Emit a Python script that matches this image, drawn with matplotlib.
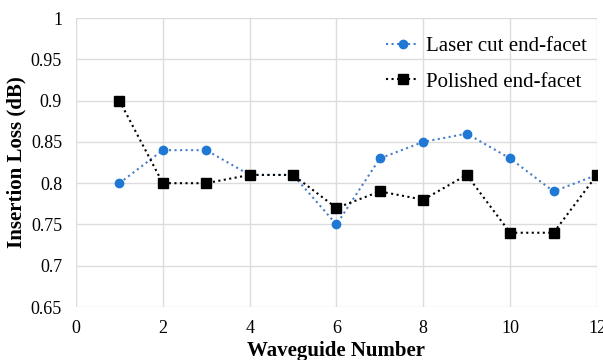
import matplotlib
matplotlib.use("Agg")
import matplotlib.pyplot as plt

waveguide = [1, 2, 3, 4, 5, 6, 7, 8, 9, 10, 11, 12]
laser_cut = [0.80, 0.84, 0.84, 0.81, 0.81, 0.75, 0.83, 0.85, 0.86, 0.83, 0.79, 0.81]
polished = [0.90, 0.80, 0.80, 0.81, 0.81, 0.77, 0.79, 0.78, 0.81, 0.74, 0.74, 0.81]
x_ticks = [0, 2, 4, 6, 8, 10, 12]
y_ticks = [0.65, 0.7, 0.75, 0.8, 0.85, 0.9, 0.95, 1.0]
y_labels = ["0.65", "0.7", "0.75", "0.8", "0.85", "0.9", "0.95", "1"]

plt.rcParams['font.family'] = ['Liberation Serif', 'DejaVu Serif']

fig = plt.figure(figsize=(6.03, 3.6), dpi=100)
ax = fig.add_axes([0.126, 0.147, 0.864, 0.803])

ax.plot(waveguide, laser_cut, linestyle=':', color='#4a7fc8', linewidth=1.5,
        marker='o', markersize=6, markerfacecolor='#1f78d4', markeredgecolor='#1f78d4',
        label='Laser cut end-facet', zorder=3)
ax.plot(waveguide, polished, linestyle=':', color='black', linewidth=1.5,
        marker='s', markersize=7.5, markerfacecolor='black', markeredgecolor='black',
        label='Polished end-facet', zorder=4)

ax.set_xlim(0, 12)
ax.set_ylim(0.65, 1.0)
ax.set_xticks(x_ticks)
ax.set_yticks(y_ticks)
ax.set_yticklabels(y_labels)
ax.tick_params(axis='x', length=0, labelsize=13, pad=9)
ax.tick_params(axis='y', length=0, labelsize=13, pad=10)
ax.grid(True, color='#dcdcdc', linewidth=1)
ax.set_axisbelow(True)
for s in ax.spines.values():
    s.set_visible(False)

ax.set_xlabel('Waveguide Number', fontsize=15, fontweight='bold', labelpad=3)
ax.set_ylabel('Insertion Loss (dB)', fontsize=15, fontweight='bold', labelpad=3)

leg = ax.legend(loc='upper right', bbox_to_anchor=(1.016, 1.0), frameon=False,
                fontsize=15, handlelength=1.6, handletextpad=0.3,
                borderaxespad=0.5, labelspacing=0.75)

fig.savefig('out.png', dpi=100)
